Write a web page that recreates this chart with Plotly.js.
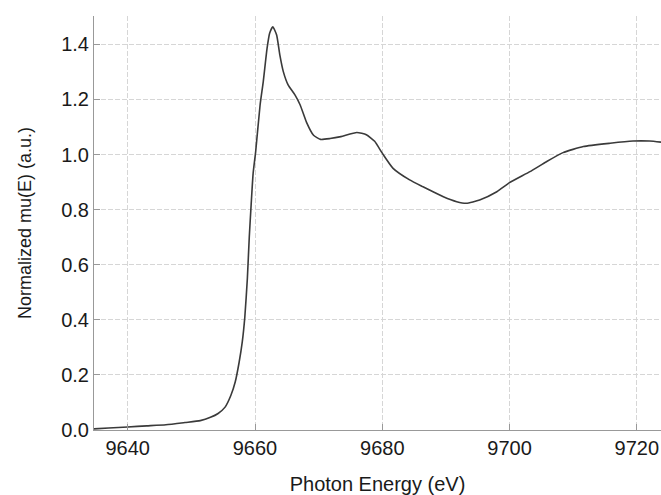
<!DOCTYPE html>
<html>
<head>
<meta charset="utf-8">
<script src="https://cdn.plot.ly/plotly-3.0.1.min.js"></script>
<style>html,body{margin:0;padding:0;background:#fff;}#chart{width:661px;height:495px;}</style>
</head>
<body>
<div id="chart"></div>
<script>
var energy = [9634.7, 9637, 9640, 9643, 9646, 9649, 9651.4, 9653, 9654.2, 9655.3, 9656.2, 9656.9, 9657.5, 9658.0, 9658.4, 9658.8, 9659.1, 9659.4, 9659.7, 9660.1, 9660.8, 9661.3, 9661.9, 9662.3, 9662.8, 9663.4, 9663.9, 9664.45, 9665.2, 9666.3, 9667.1, 9668.1, 9669.2, 9670.3, 9671.8, 9673.5, 9676.0, 9677.5, 9678.8, 9680.0, 9681.7, 9684.3, 9686.4, 9689.6, 9691.7, 9693.2, 9695.3, 9698.0, 9700.0, 9703.2, 9705.8, 9708.4, 9711.6, 9715.8, 9719.4, 9722.0, 9723.8];
var muNorm = [0.004, 0.007, 0.011, 0.015, 0.019, 0.027, 0.034, 0.046, 0.060, 0.083, 0.125, 0.175, 0.245, 0.32, 0.41, 0.55, 0.70, 0.82, 0.93, 1.01, 1.18, 1.265, 1.386, 1.44, 1.464, 1.434, 1.362, 1.301, 1.253, 1.216, 1.18, 1.117, 1.07, 1.055, 1.058, 1.065, 1.080, 1.072, 1.048, 1.005, 0.950, 0.908, 0.883, 0.847, 0.829, 0.823, 0.835, 0.865, 0.898, 0.938, 0.974, 1.007, 1.029, 1.041, 1.049, 1.049, 1.045];
var xTicks = [9640, 9660, 9680, 9700, 9720];
var yTicks = [0.0, 0.2, 0.4, 0.6, 0.8, 1.0, 1.2, 1.4];
var yTickText = ['0.0', '0.2', '0.4', '0.6', '0.8', '1.0', '1.2', '1.4'];

var trace = {
  x: energy, y: muNorm, type: 'scatter', mode: 'lines',
  line: {color: '#3a3a3a', width: 1.6, shape: 'spline', smoothing: 0.5},
  hoverinfo: 'skip'
};
var fontFam = 'Liberation Sans, Arial, sans-serif';
var layout = {
  width: 661, height: 495,
  margin: {l: 94, r: 0, t: 16, b: 65},
  paper_bgcolor: '#ffffff', plot_bgcolor: '#ffffff',
  showlegend: false,
  font: {family: fontFam, size: 20, color: '#1a1a1a'},
  xaxis: {
    range: [9634.7, 9723.8], tickvals: xTicks, ticktext: xTicks.map(String),
    showgrid: true, gridcolor: '#d6d6d6', griddash: '5px,2px', gridwidth: 1,
    zeroline: false, showline: true, linecolor: '#999999', linewidth: 1,
    ticks: 'inside', ticklen: 6, tickcolor: '#999999',
    tickfont: {family: fontFam, size: 20, color: '#1a1a1a'},
    title: {text: 'Photon Energy (eV)', font: {family: fontFam, size: 20, color: '#1a1a1a'}, standoff: 18}
  },
  yaxis: {
    range: [0, 1.503], tickvals: yTicks, ticktext: yTickText,
    showgrid: true, gridcolor: '#d6d6d6', griddash: '5px,2px', gridwidth: 1,
    zeroline: false, showline: true, linecolor: '#999999', linewidth: 1,
    ticks: 'inside', ticklen: 6, tickcolor: '#999999',
    tickfont: {family: fontFam, size: 20, color: '#1a1a1a'},
    title: {text: 'Normalized mu(E) (a.u.)', font: {family: fontFam, size: 18, color: '#1a1a1a'}, standoff: 24}
  }
};
Plotly.newPlot('chart', [trace], layout, {staticPlot: true, displayModeBar: false});
</script>
</body>
</html>
